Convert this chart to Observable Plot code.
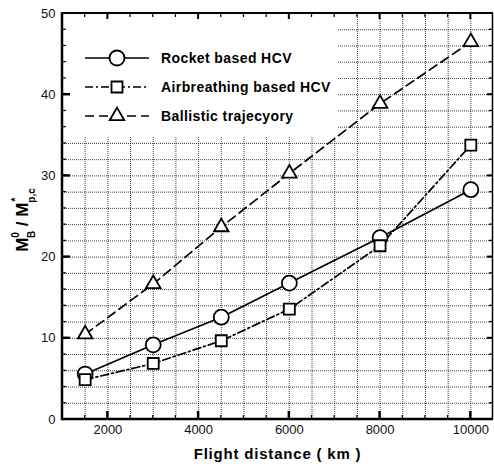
<!DOCTYPE html>
<html><head><meta charset="utf-8">
<script src="https://cdn.jsdelivr.net/npm/d3@7"></script>
<script src="https://cdn.jsdelivr.net/npm/@observablehq/plot@0.6"></script>
<style>body{margin:0;background:#fff}</style>
</head><body><div id="chart"></div>
<script>
const distances = [1500, 3000, 4500, 6000, 8000, 10000];
const rocket = [5.6, 9.2, 12.6, 16.8, 22.4, 28.3];
const airbreathing = [4.9, 6.9, 9.7, 13.6, 21.4, 33.8];
const ballistic = [10.5, 16.7, 23.7, 30.3, 38.9, 46.5];
const seriesNames = ["Rocket based HCV", "Airbreathing based HCV", "Ballistic trajecyory"];
const xTicks = [2000, 4000, 6000, 8000, 10000];
const yTicks = [0, 10, 20, 30, 40, 50];
const xGrid = d3.range(1500, 10001, 500);
const yGrid = d3.range(2, 49, 2);
const xLabel = "Flight distance ( km )";

const seriesValues = [rocket, airbreathing, ballistic];
const dashes = [null, "8,3,2,3", "9,5"];
const symbols = ["circle", "square", "triangle"];
const radii = [7.5, 6.2, 5.4];
const data = seriesNames.flatMap((s, i) => distances.map((x, j) => ({x, y: seriesValues[i][j], series: s})));

const W = 494, H = 468, mL = 62, mR = 1, mT = 13, mB = 49;

const plot = Plot.plot({
  width: W, height: H,
  marginLeft: mL, marginRight: mR, marginTop: mT, marginBottom: mB,
  style: {fontFamily: "'Liberation Sans', Arial, sans-serif", fontSize: "13px", color: "#111", background: "#fff"},
  x: {domain: [1000, 10500], ticks: xTicks, tickSize: 0, tickPadding: 5, tickFormat: "d", label: null},
  y: {domain: [0, 50], ticks: yTicks, tickSize: 0, tickPadding: 7, label: null},
  marks: [
    Plot.ruleX(xGrid, {stroke: "#000", strokeOpacity: 0.75, strokeDasharray: "1,1", strokeWidth: 1}),
    Plot.ruleY(yGrid, {stroke: "#000", strokeOpacity: 0.75, strokeDasharray: "1,1", strokeWidth: 1}),
    ...seriesNames.map((s, i) => Plot.line(data.filter(d => d.series === s), {x: "x", y: "y", stroke: "#000", strokeWidth: 1.7, strokeDasharray: dashes[i]})),
    ...seriesNames.map((s, i) => Plot.dot(data.filter(d => d.series === s), {x: "x", y: "y", symbol: symbols[i], r: radii[i], stroke: "#000", fill: "#fff", strokeWidth: 1.8}))
  ]
});

const svg = d3.select(plot);
const xs = plot.scale("x"), ys = plot.scale("y");
const X = v => xs.apply(v), Y = v => ys.apply(v);
const x0 = mL, x1 = W - mR, y0 = mT, y1 = H - mB;

// legend background covering grid
svg.insert("rect", "g[aria-label=line]")
  .attr("x", x0).attr("y", y0).attr("width", 338 - x0).attr("height", 136 - y0).attr("fill", "#fff");

// ticks
const tg = svg.append("g").attr("stroke", "#000");
xGrid.forEach(v => {
  const major = xTicks.includes(v);
  tg.append("line").attr("x1", X(v)).attr("x2", X(v)).attr("y1", y1).attr("y2", y1 - (major ? 8 : 4)).attr("stroke-width", major ? 2.5 : 1.2);
  tg.append("line").attr("x1", X(v)).attr("x2", X(v)).attr("y1", y0).attr("y2", y0 + (major ? 6 : 4)).attr("stroke-width", major ? 2 : 1.2);
});
yGrid.forEach(v => {
  const major = yTicks.includes(v);
  tg.append("line").attr("y1", Y(v)).attr("y2", Y(v)).attr("x1", x0).attr("x2", x0 + (major ? 8 : 4)).attr("stroke-width", major ? 2.5 : 1.2);
  tg.append("line").attr("y1", Y(v)).attr("y2", Y(v)).attr("x1", x1).attr("x2", x1 - (major ? 6 : 4)).attr("stroke-width", major ? 2 : 1.2);
});
// frame
tg.append("line").attr("x1", x0).attr("x2", x0).attr("y1", y0 - 1).attr("y2", y1 + 1.25).attr("stroke-width", 2.5);
tg.append("line").attr("x1", x0).attr("x2", x1).attr("y1", y1).attr("y2", y1).attr("stroke-width", 2.5);
tg.append("line").attr("x1", x0).attr("x2", x1).attr("y1", y0).attr("y2", y0).attr("stroke-width", 2);
tg.append("line").attr("x1", x1 - 0.5).attr("x2", x1 - 0.5).attr("y1", y0).attr("y2", y1).attr("stroke-width", 1.5);

// legend
const lg = svg.append("g").attr("text-anchor", "start");
const rowY = [58, 87, 116];
const symbolTypes = [d3.symbolCircle, d3.symbolSquare, d3.symbolTriangle];
seriesNames.forEach((s, i) => {
  lg.append("line").attr("x1", 85).attr("x2", 149).attr("y1", rowY[i]).attr("y2", rowY[i])
    .attr("stroke", "#000").attr("stroke-width", 1.7).attr("stroke-dasharray", dashes[i]);
  lg.append("path").attr("transform", `translate(117,${rowY[i]})`)
    .attr("d", d3.symbol(symbolTypes[i], Math.PI * radii[i] * radii[i])())
    .attr("fill", "#fff").attr("stroke", "#000").attr("stroke-width", 1.8);
  lg.append("text").attr("x", 161).attr("y", rowY[i]).attr("dy", "0.36em").attr("text-anchor", "start")
    .attr("font-size", 14).attr("font-weight", "bold").attr("letter-spacing", 0.4)
    .attr("font-family", "'Liberation Sans', Arial, sans-serif").attr("fill", "#000").text(s);
});

// axis titles
svg.append("text").attr("x", (x0 + x1) / 2).attr("y", 459).attr("text-anchor", "middle")
  .attr("font-size", 15).attr("font-weight", "bold").attr("letter-spacing", 0.8)
  .attr("font-family", "'Liberation Sans', Arial, sans-serif").attr("fill", "#000").text(xLabel);

const yl = svg.append("text").attr("transform", "translate(28,220) rotate(-90)").attr("text-anchor", "middle")
  .attr("font-size", 17).attr("font-weight", "bold")
  .attr("font-family", "'Liberation Sans', Arial, sans-serif").attr("fill", "#000");
yl.append("tspan").text("M");
yl.append("tspan").attr("font-size", 10).attr("dy", -9).text("0");
yl.append("tspan").attr("font-size", 10).attr("dx", -6).attr("dy", 16).text("B");
yl.append("tspan").attr("dy", -7).text(" / M");
yl.append("tspan").attr("font-size", 10).attr("dy", -9).attr("dx", 1).text("*");
yl.append("tspan").attr("font-size", 10).attr("dx", -5).attr("dy", 16).text("p,c");

document.getElementById("chart").appendChild(plot);
</script>
</body></html>
